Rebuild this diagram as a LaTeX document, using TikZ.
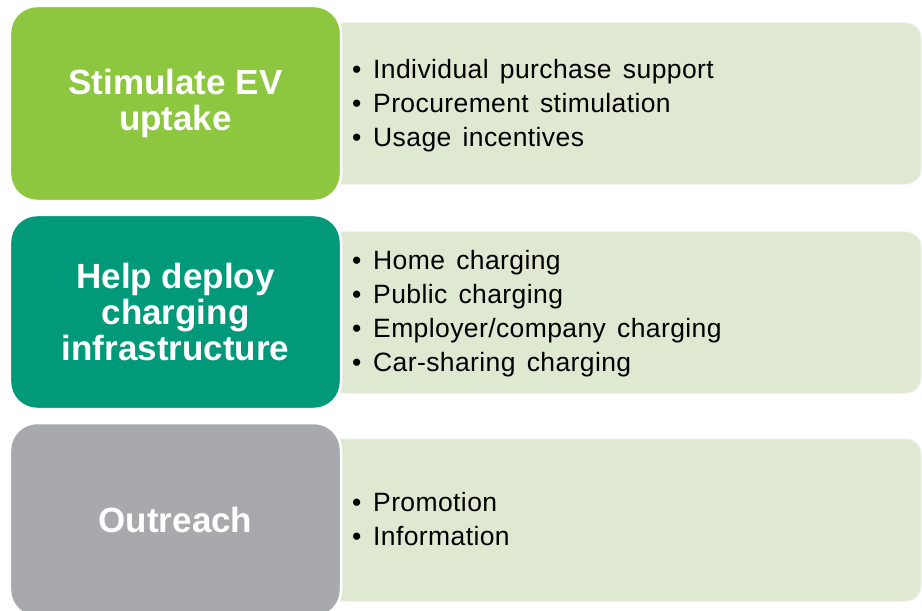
\documentclass[tikz,border=0pt]{standalone}
\usepackage{fontspec}
\setmainfont{Liberation Sans}
\newfontfamily\itemfont[WordSpace=1.45,LetterSpace=1.5]{Liberation Sans}
\definecolor{cgreen}{HTML}{8DC63F}
\definecolor{cteal}{HTML}{00997A}
\definecolor{cgray}{HTML}{A7A9AC}
\definecolor{clight}{HTML}{DFE9D2}
\tikzset{
  catbox/.style={draw=white, line width=2.5bp, rounded corners=27bp, minimum width=331bp,
    text=white, font=\fontsize{35bp}{36bp}\selectfont\bfseries, align=center, inner sep=0pt},
  listbox/.style={fill=clight, draw=clight!60!white, line width=1bp, rounded corners=15bp,
    minimum width=601bp, minimum height=161bp, inner sep=0pt},
  listtext/.style={anchor=west, align=left, inner sep=0pt, text=black,
    font=\itemfont\fontsize{26.5bp}{34bp}\selectfont},
}
\newcommand{\bul}{\makebox[21bp][l]{•}}
\begin{document}
\begin{tikzpicture}[x=1bp,y=-1bp]
\useasboundingbox (0,0) rectangle (922,611);
% right list boxes
\node[listbox] (r1) at (620.5,103.5) {};
\node[listbox] (r2) at (620.5,312.5) {};
\node[listbox, minimum height=162bp] (r3) at (620.5,520) {};
% left category boxes
\node[catbox, fill=cgreen, minimum height=195bp] (c1) at (175.5,103.5) {Stimulate EV\\uptake};
\node[catbox, fill=cteal, minimum height=194bp] (c2) at (175.5,312) {Help deploy\\charging\\infrastructure};
\node[catbox, fill=cgray, minimum height=194bp] (c3) at (175.5,520) {Outreach};
% list texts
\node[listtext] (t1) at (352,106) {\bul Individual purchase support\\\bul Procurement stimulation\\\bul Usage incentives};
\node[listtext] (t2) at (352,314) {\bul Home charging\\\bul Public charging\\\bul Employer/company charging\\\bul Car-sharing charging};
\node[listtext] (t3) at (352,519.5) {\bul Promotion\\\bul Information};
\end{tikzpicture}
\end{document}
